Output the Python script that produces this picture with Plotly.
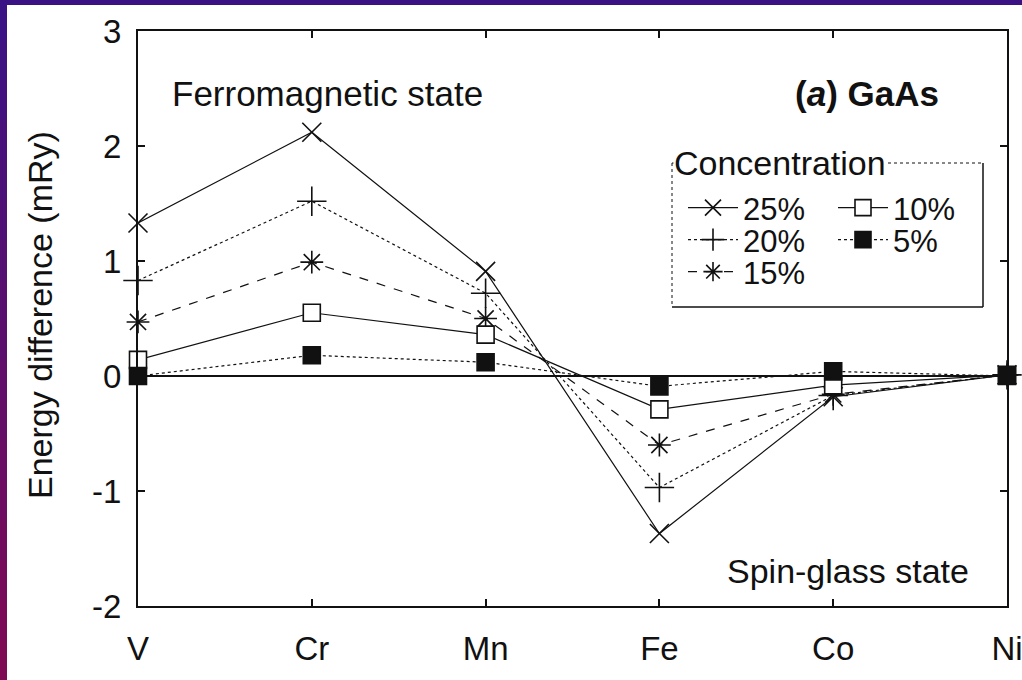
import plotly.graph_objects as go

# Transition-metal dopants along the x axis
elements = ["V", "Cr", "Mn", "Fe", "Co", "Ni"]

# Energy difference E(spin-glass) - E(ferromagnetic), mRy, per impurity concentration
conc_25 = [1.33, 2.12, 0.91, -1.37, -0.18, 0.01]
conc_20 = [0.83, 1.52, 0.72, -0.97, -0.17, 0.01]
conc_15 = [0.47, 0.99, 0.50, -0.60, -0.16, 0.01]
conc_10 = [0.14, 0.55, 0.36, -0.29, -0.08, 0.01]
conc_5 = [0.00, 0.18, 0.12, -0.09, 0.04, 0.00]

series_names = ["25%", "20%", "15%", "10%", "5%"]
series_values = [conc_25, conc_20, conc_15, conc_10, conc_5]

y_tick_vals = [-2, -1, 0, 1, 2, 3]
y_tick_text = ["-2", "-1", "0", "1", "2", "3"]

FONT = "Liberation Sans, Arial, Helvetica, sans-serif"
INK = "#111111"

# one horizontal legend per row of the key: (25%, 10%), (20%, 5%), (15%)
styles = {
    "25%": dict(symbol="x-thin", size=19, dash="solid", fill=INK, legend="legend"),
    "20%": dict(symbol="cross-thin", size=21, dash="dot", fill=INK, legend="legend2"),
    "15%": dict(symbol="asterisk", size=19, dash="dash", fill=INK, legend="legend3"),
    "10%": dict(symbol="square", size=17, dash="solid", fill="white", legend="legend"),
    "5%": dict(symbol="square", size=17, dash="dot", fill=INK, legend="legend2"),
}

fig = go.Figure()
for name, vals in zip(series_names, series_values):
    st = styles[name]
    fig.add_trace(go.Scatter(
        x=elements, y=vals, name=name, mode="lines+markers",
        line=dict(color=INK, width=1.2, dash=st["dash"]),
        marker=dict(symbol=st["symbol"], size=st["size"], color=st["fill"],
                    line=dict(color=INK, width=1.6)),
        legend=st["legend"], cliponaxis=False,
    ))

# plot area in pixels: left 138, right 1007, top 31, bottom 606
L, R, T, B = 138, 1007, 31, 606
W, H = 1022, 680


def px(x):
    return (x - L) / (R - L)


def py(y):
    return (B - y) / (B - T)


shapes = []
# purple frame along the left and top edges
top_col = (58, 18, 132)
bot_col = (126, 10, 84)
n_band = 17
for i in range(n_band):
    f = i / (n_band - 1)
    c = tuple(round(top_col[k] + (bot_col[k] - top_col[k]) * f) for k in range(3))
    y0 = i * H / n_band
    y1 = (i + 1) * H / n_band + 1
    shapes.append(dict(type="rect", xref="paper", yref="paper", layer="below",
                       x0=px(0), x1=px(7), y0=py(y0), y1=py(y1),
                       line=dict(width=0), fillcolor="rgb(%d,%d,%d)" % c))
shapes.append(dict(type="rect", xref="paper", yref="paper", layer="below",
                   x0=px(0), x1=px(W), y0=py(0), y1=py(5),
                   line=dict(width=0), fillcolor="rgb(%d,%d,%d)" % top_col))

# legend frame: dotted top/left, solid right/bottom
bx0, bx1, by0, by1 = 672, 983, 163, 307
shapes += [
    dict(type="line", xref="paper", yref="paper", x0=px(bx0), x1=px(bx1), y0=py(by0), y1=py(by0),
         line=dict(color=INK, width=1, dash="dot")),
    dict(type="line", xref="paper", yref="paper", x0=px(bx0), x1=px(bx0), y0=py(by0), y1=py(by1),
         line=dict(color=INK, width=1, dash="dot")),
    dict(type="line", xref="paper", yref="paper", x0=px(bx1), x1=px(bx1), y0=py(by0), y1=py(by1),
         line=dict(color=INK, width=1.5)),
    dict(type="line", xref="paper", yref="paper", x0=px(bx0), x1=px(bx1), y0=py(by1), y1=py(by1),
         line=dict(color=INK, width=1.5)),
]

annotations = [
    dict(text="Energy difference (mRy)", xref="paper", yref="paper", x=px(40), y=py(315),
         textangle=-90, showarrow=False, font=dict(size=34, color=INK, family=FONT),
         xanchor="center", yanchor="middle"),
    dict(text="Ferromagnetic state", xref="paper", yref="paper", x=px(170), y=py(93),
         showarrow=False, font=dict(size=35, color=INK, family=FONT),
         xanchor="left", yanchor="middle"),
    dict(text="<b>(<i>a</i>) GaAs</b>", xref="paper", yref="paper", x=px(941), y=py(93),
         showarrow=False, font=dict(size=35, color=INK, family=FONT),
         xanchor="right", yanchor="middle"),
    dict(text="Spin-glass state", xref="paper", yref="paper", x=px(971), y=py(571),
         showarrow=False, font=dict(size=34, color=INK, family=FONT),
         xanchor="right", yanchor="middle"),
    dict(text="Concentration", xref="paper", yref="paper", x=px(673), y=py(163),
         showarrow=False, font=dict(size=34, color=INK, family=FONT),
         xanchor="left", yanchor="middle", bgcolor="white", borderpad=0),
]

legend_common = dict(orientation="h", xanchor="left", yanchor="middle", itemwidth=50,
                     entrywidth=85, entrywidthmode="pixels",
                     bgcolor="rgba(0,0,0,0)", borderwidth=0,
                     font=dict(size=31, color=INK, family=FONT))

fig.update_layout(
    width=W, height=H,
    margin=dict(l=L, r=W - R, t=T, b=H - B, autoexpand=False),
    paper_bgcolor="white", plot_bgcolor="white",
    font=dict(family=FONT, size=33, color=INK),
    shapes=shapes, annotations=annotations,
    showlegend=True,
    legend=dict(x=px(683), y=py(208), **legend_common),
    legend2=dict(x=px(683), y=py(240), **legend_common),
    legend3=dict(x=px(683), y=py(272), **legend_common),
    xaxis=dict(type="category", range=[0, 5], showgrid=False, zeroline=False,
               automargin=False,
               showline=True, linecolor=INK, linewidth=2, mirror="ticks",
               ticks="inside", ticklen=7, tickwidth=1.5, tickcolor=INK,
               ticklabelstandoff=12, tickfont=dict(size=33, color=INK, family=FONT)),
    yaxis=dict(range=[-2, 3], tickvals=y_tick_vals, ticktext=y_tick_text,
               automargin=False,
               showgrid=False, zeroline=True, zerolinecolor=INK, zerolinewidth=1.8,
               showline=True, linecolor=INK, linewidth=2, mirror="ticks",
               ticks="inside", ticklen=7, tickwidth=1.5, tickcolor=INK,
               ticklabelstandoff=8, tickfont=dict(size=33, color=INK, family=FONT)),
)

fig.write_html("out.html")
